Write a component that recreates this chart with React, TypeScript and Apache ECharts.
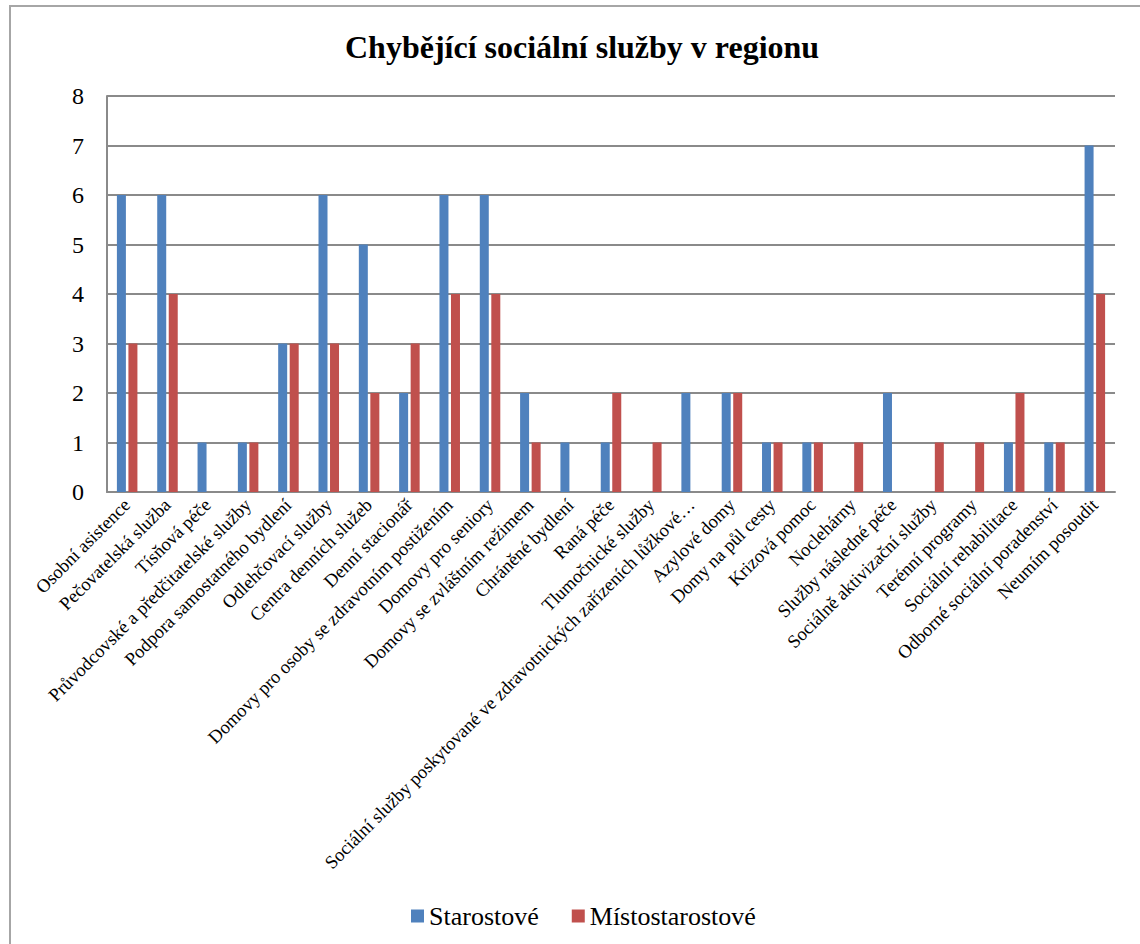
import React, { useEffect, useRef } from "react";
import * as echarts from "echarts";

const categories = [
  "Osobní asistence",
  "Pečovatelská služba",
  "Tísňová péče",
  "Průvodcovské a předčitatelské služby",
  "Podpora samostatného bydlení",
  "Odlehčovací služby",
  "Centra denních služeb",
  "Denní stacionář",
  "Domovy pro osoby se zdravotním postižením",
  "Domovy pro seniory",
  "Domovy se zvláštním režimem",
  "Chráněné bydlení",
  "Raná péče",
  "Tlumočnické služby",
  "Sociální služby poskytované ve zdravotnických zařízeních lůžkové…",
  "Azylové domy",
  "Domy na půl cesty",
  "Krizová pomoc",
  "Noclehárny",
  "Služby následné péče",
  "Sociálně aktivizační služby",
  "Terénní programy",
  "Sociální rehabilitace",
  "Odborné sociální poradenství",
  "Neumím posoudit",
];

const starostove = [6, 6, 1, 1, 3, 6, 5, 2, 6, 6, 2, 1, 1, 0, 2, 2, 1, 1, 0, 2, 0, 0, 1, 1, 7];
const mistostarostove = [3, 4, 0, 1, 3, 3, 2, 3, 4, 4, 1, 0, 2, 1, 0, 2, 1, 1, 1, 0, 1, 1, 2, 1, 4];

const yTicks = [0, 1, 2, 3, 4, 5, 6, 7, 8];

const FONT = "Liberation Serif";
const GRID = "#8a8a8a";

export default function App() {
  const ref = useRef<HTMLDivElement>(null);
  useEffect(() => {
    if (!ref.current) return;
    const chart = echarts.init(ref.current, undefined, { renderer: "svg" });
    chart.setOption({
      animation: false,
      backgroundColor: "#ffffff",
      textStyle: { fontFamily: FONT, color: "#000" },
      title: {
        text: "Chybějící sociální služby v regionu",
        left: 340,
        top: 26,
        textStyle: { fontFamily: FONT, fontSize: 32, fontWeight: "bold", color: "#000" },
      },
      graphic: [
        {
          type: "rect",
          shape: { x: 10, y: 6, width: 1200, height: 1000 },
          style: { fill: "none", stroke: "#a6a6a6", lineWidth: 2 },
          silent: true,
        },
      ],
      legend: {
        left: 406,
        top: 898,
        icon: "rect",
        itemWidth: 13,
        itemHeight: 13,
        itemGap: 33,
        textStyle: { fontFamily: FONT, fontSize: 26, color: "#000" },
        data: ["Starostové", "Místostarostové"],
      },
      grid: { left: 107, right: 25, top: 96, bottom: 452, containLabel: false },
      xAxis: {
        type: "category",
        data: categories,
        axisLine: { show: true, lineStyle: { color: GRID, width: 2 } },
        axisTick: { show: false },
        axisLabel: {
          interval: 0,
          rotate: 45,
          margin: 10,
          fontFamily: FONT,
          fontSize: 18.5,
          color: "#000",
        },
      },
      yAxis: {
        type: "value",
        min: yTicks[0],
        max: yTicks[yTicks.length - 1],
        interval: 1,
        axisLine: { show: true, lineStyle: { color: GRID, width: 2 } },
        axisTick: { show: false },
        axisLabel: { fontFamily: FONT, fontSize: 24, color: "#000", margin: 23 },
        splitLine: { show: true, lineStyle: { color: GRID, width: 2 } },
      },
      series: [
        {
          name: "Starostové",
          type: "bar",
          data: starostove,
          barWidth: 9,
          barGap: "28%",
          itemStyle: { color: "#4F81BD" },
        },
        {
          name: "Místostarostové",
          type: "bar",
          data: mistostarostove,
          barWidth: 9,
          itemStyle: { color: "#C0504D" },
        },
      ],
    });
    return () => chart.dispose();
  }, []);
  return (
    <div
      ref={ref}
      style={{ position: "absolute", left: 0, top: 0, width: 1140, height: 944 }}
    />
  );
}
